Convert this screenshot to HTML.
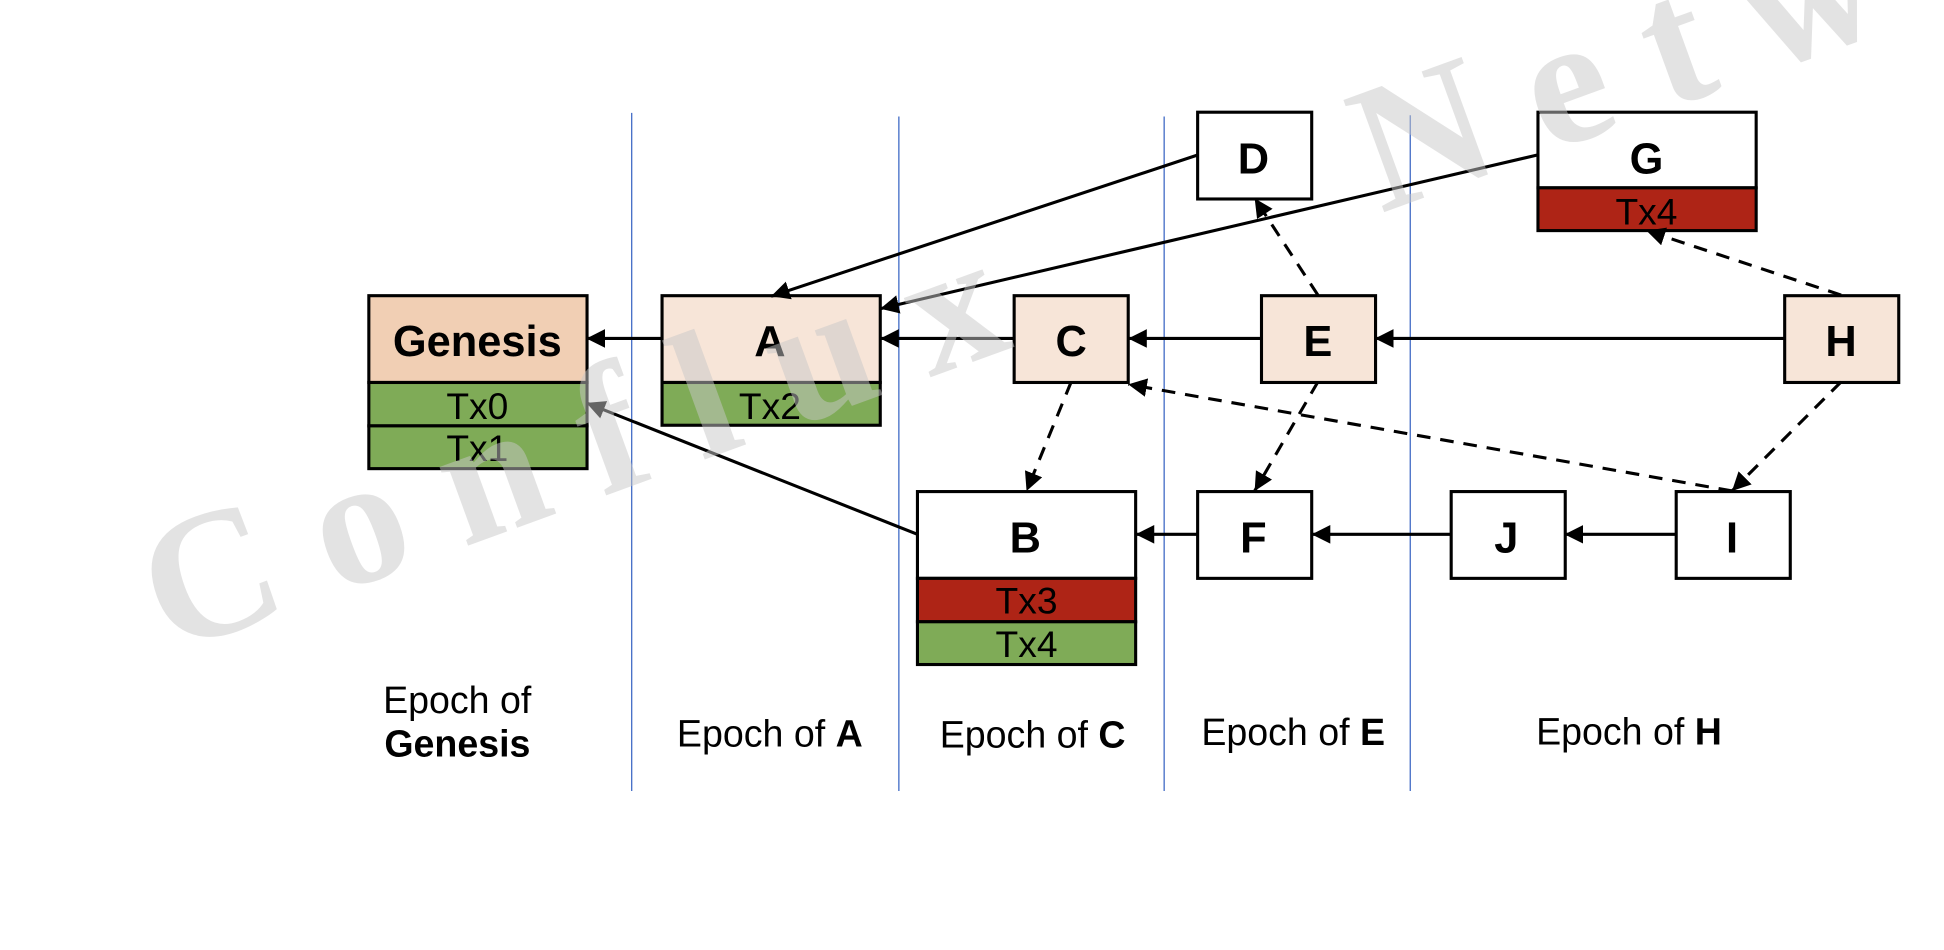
<!DOCTYPE html>
<html lang="en">
<head>
<meta charset="utf-8">
<title>Conflux epochs diagram</title>
<style>
html,body{margin:0;padding:0;background:#fff;width:1944px;height:950px;overflow:hidden}
svg{display:block}
text{font-family:"Liberation Sans",sans-serif;fill:#000}
.node{font-size:35px;font-weight:bold;text-anchor:middle}
.tx{font-size:30px;text-anchor:middle}
.ep{font-size:30.3px}
.ep tspan.b{font-weight:bold}
.box{stroke:#000;stroke-width:2.5}
.arrow{stroke:#000;stroke-width:2.5;fill:none;marker-end:url(#head)}
.dash{stroke-dasharray:11 8}
.sep{stroke:#4a72c8;stroke-width:1.1}
</style>
</head>
<body>
<svg xmlns="http://www.w3.org/2000/svg" width="1944" height="950" viewBox="0 0 1568 766.26" preserveAspectRatio="none">
<defs>
<marker id="head" markerUnits="userSpaceOnUse" markerWidth="18" markerHeight="18" refX="15" refY="8" orient="auto">
<path d="M0 0.5 L15 8 L0 15.5 Z" fill="#000"/>
</marker>
</defs>

<g>
<line class="sep" x1="509.5" y1="91" x2="509.5" y2="638"/>
<line class="sep" x1="725" y1="94" x2="725" y2="638"/>
<line class="sep" x1="939" y1="94" x2="939" y2="638"/>
<line class="sep" x1="1137.5" y1="93" x2="1137.5" y2="638"/>
</g>

<g>
<rect class="box" x="297.5" y="238.5" width="176" height="70" fill="#f1cfb4"/>
<rect class="box" x="297.5" y="308.5" width="176" height="35" fill="#7fab57"/>
<rect class="box" x="297.5" y="343.5" width="176" height="34.5" fill="#7fab57"/>
<text class="node" x="385" y="287">Genesis</text>
<text class="tx" x="385" y="338">Tx0</text>
<text class="tx" x="385" y="372">Tx1</text>
</g>

<g>
<rect class="box" x="534" y="238.5" width="176" height="70" fill="#f7e5d8"/>
<rect class="box" x="534" y="308.5" width="176" height="34.5" fill="#7fab57"/>
<text class="node" x="621" y="287">A</text>
<text class="tx" x="621" y="338">Tx2</text>
</g>

<g>
<rect class="box" x="818" y="238.5" width="92" height="70" fill="#f7e5d8"/>
<text class="node" x="864" y="287">C</text>
</g>

<g>
<rect class="box" x="1017.5" y="238.5" width="92" height="70" fill="#f7e5d8"/>
<text class="node" x="1063" y="287">E</text>
</g>

<g>
<rect class="box" x="1439.5" y="238.5" width="92" height="70" fill="#f7e5d8"/>
<text class="node" x="1485" y="287">H</text>
</g>

<g>
<rect class="box" x="966" y="90.5" width="92" height="70" fill="#fff"/>
<text class="node" x="1011" y="140">D</text>
</g>

<g>
<rect class="box" x="1240.5" y="90.5" width="176" height="61" fill="#fff"/>
<rect class="box" x="1240.5" y="151.5" width="176" height="34.5" fill="#ae2416"/>
<text class="node" x="1328" y="140">G</text>
<text class="tx" x="1328" y="181">Tx4</text>
</g>

<g>
<rect class="box" x="740" y="396.5" width="176" height="70" fill="#fff"/>
<rect class="box" x="740" y="466.5" width="176" height="35" fill="#ae2416"/>
<rect class="box" x="740" y="501.5" width="176" height="34.5" fill="#7fab57"/>
<text class="node" x="827" y="445.5">B</text>
<text class="tx" x="828" y="495">Tx3</text>
<text class="tx" x="828" y="530">Tx4</text>
</g>

<g>
<rect class="box" x="966" y="396.5" width="92" height="70" fill="#fff"/>
<text class="node" x="1011" y="445.5">F</text>
</g>

<g>
<rect class="box" x="1170.5" y="396.5" width="92" height="70" fill="#fff"/>
<text class="node" x="1215" y="445.5">J</text>
</g>

<g>
<rect class="box" x="1352" y="396.5" width="92" height="70" fill="#fff"/>
<text class="node" x="1397" y="445.5">I</text>
</g>

<g>
<line class="arrow" x1="534" y1="273" x2="473" y2="273"/>
<line class="arrow" x1="818" y1="273" x2="710" y2="273"/>
<line class="arrow" x1="1017" y1="273" x2="910" y2="273"/>
<line class="arrow" x1="1439" y1="273" x2="1109" y2="273"/>
<line class="arrow" x1="966" y1="125" x2="622" y2="239"/>
<line class="arrow" x1="1240" y1="125" x2="710" y2="249"/>
<line class="arrow" x1="740" y1="431" x2="473" y2="325"/>
<line class="arrow" x1="966" y1="431" x2="916" y2="431"/>
<line class="arrow" x1="1170" y1="431" x2="1058" y2="431"/>
<line class="arrow" x1="1352" y1="431" x2="1262" y2="431"/>
</g>

<g>
<line class="arrow dash" x1="1063" y1="238" x2="1012" y2="160"/>
<line class="arrow dash" x1="1485" y1="238" x2="1328" y2="186"/>
<line class="arrow dash" x1="864" y1="308" x2="828" y2="396"/>
<line class="arrow dash" x1="1063" y1="308" x2="1012" y2="396"/>
<line class="arrow dash" x1="1397" y1="396" x2="910" y2="310"/>
<line class="arrow dash" x1="1485" y1="308" x2="1397" y2="396"/>
</g>

<g>
<text class="ep" x="309" y="575">Epoch of</text>
<text class="ep" x="310" y="610" font-weight="bold">Genesis</text>
<text class="ep" x="546" y="602">Epoch of <tspan class="b">A</tspan></text>
<text class="ep" x="758" y="603">Epoch of <tspan class="b">C</tspan></text>
<text class="ep" x="969" y="601">Epoch of <tspan class="b">E</tspan></text>
<text class="ep" x="1239" y="600.5">Epoch of <tspan class="b">H</tspan></text>
</g>

<text transform="translate(136 528) rotate(-20)" xml:space="preserve" style="font-family:'Liberation Serif',serif;font-weight:bold;font-size:147px;fill:rgba(200,200,200,.5);white-space:pre">C o n f l u x         <tspan dx="-17">N</tspan> e t w o r k</text>
</svg>
</body>
</html>
